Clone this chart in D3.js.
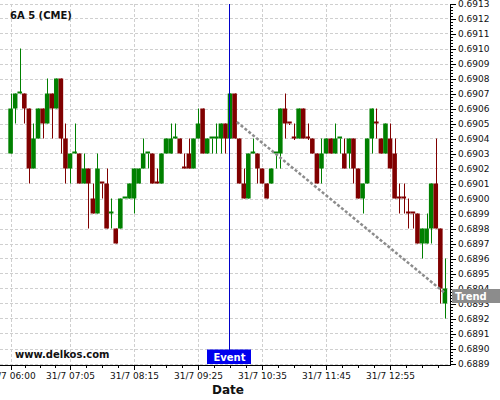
<!DOCTYPE html>
<html>
<head>
<meta charset="utf-8">
<script src="https://cdn.jsdelivr.net/npm/d3@7"></script>
<style>
  body { margin: 0; background: #fff; }
  svg { display: block; font-family: 'DejaVu Sans', sans-serif; }
  .grid line { stroke: #cfcfcf; stroke-dasharray: 3,2; shape-rendering: crispEdges; }
  .axis path, .axis line { stroke: #000; shape-rendering: crispEdges; }
  .axis text { fill: #111; }
</style>
</head>
<body>
<svg></svg>
<script>
var width = 500;
var height = 400;

// 5 minute candles, 31/7 06:00 .. 13:55
var open = [
  0.6903, 0.6906, 0.6907, 0.6907, 0.6906, 0.6902, 0.6904, 0.6906, 0.6905, 0.6907,
  0.6906, 0.6908, 0.6904, 0.6902, 0.6903, 0.6903, 0.6901, 0.6902, 0.6900, 0.6899,
  0.6901, 0.6901, 0.6899, 0.6898, 0.6898, 0.6900, 0.6900, 0.6900, 0.6901, 0.6902,
  0.6903, 0.6903, 0.6901, 0.6901, 0.6903, 0.6903, 0.6904, 0.6904, 0.6902, 0.6903,
  0.6902, 0.6904, 0.6906, 0.6903, 0.6904, 0.6904, 0.6904, 0.6905, 0.6904, 0.6907,
  0.6904, 0.6901, 0.6900, 0.6903, 0.6903, 0.6902, 0.6901, 0.6901, 0.6903, 0.6903,
  0.6906, 0.6905, 0.6904, 0.6904, 0.6906, 0.6904, 0.6904, 0.6903, 0.6902, 0.6903,
  0.6904, 0.6903, 0.6904, 0.6903, 0.6903, 0.6904, 0.6902, 0.6900, 0.6901, 0.6904,
  0.6905, 0.6904, 0.6903, 0.6904, 0.6903, 0.6900, 0.6900, 0.6899, 0.6899, 0.6899,
  0.6897, 0.6897, 0.6898, 0.6901, 0.6898, 0.6893
];
var high = [
  0.6907, 0.6907, 0.6910, 0.6907, 0.6906, 0.6905, 0.6906, 0.6906, 0.6908, 0.6907,
  0.6908, 0.6908, 0.6905, 0.6903, 0.6905, 0.6903, 0.6903, 0.6902, 0.6901, 0.6903,
  0.6901, 0.6902, 0.6900, 0.6898, 0.6900, 0.6900, 0.6901, 0.6902, 0.6902, 0.6904,
  0.6903, 0.6903, 0.6902, 0.6903, 0.6904, 0.6905, 0.6905, 0.6904, 0.6903, 0.6904,
  0.6904, 0.6906, 0.6906, 0.6904, 0.6904, 0.6905, 0.6905, 0.6905, 0.6907, 0.6907,
  0.6904, 0.6902, 0.6903, 0.6904, 0.6903, 0.6902, 0.6901, 0.6902, 0.6903, 0.6906,
  0.6907, 0.6905, 0.6905, 0.6906, 0.6906, 0.6905, 0.6904, 0.6903, 0.6904, 0.6904,
  0.6904, 0.6905, 0.6904, 0.6904, 0.6904, 0.6904, 0.6902, 0.6901, 0.6904, 0.6906,
  0.6906, 0.6904, 0.6905, 0.6905, 0.6904, 0.6901, 0.6901, 0.6900, 0.6899, 0.6899,
  0.6898, 0.6899, 0.6901, 0.6904, 0.6898, 0.6896
];
var low = [
  0.6903, 0.6905, 0.6907, 0.6905, 0.6901, 0.6902, 0.6904, 0.6904, 0.6905, 0.6904,
  0.6906, 0.6903, 0.6901, 0.6901, 0.6903, 0.6901, 0.6901, 0.6898, 0.6899, 0.6899,
  0.6900, 0.6898, 0.6898, 0.6897, 0.6898, 0.6900, 0.6900, 0.6899, 0.6901, 0.6902,
  0.6902, 0.6901, 0.6901, 0.6901, 0.6903, 0.6903, 0.6904, 0.6903, 0.6902, 0.6902,
  0.6902, 0.6904, 0.6903, 0.6903, 0.6903, 0.6903, 0.6903, 0.6903, 0.6904, 0.6904,
  0.6901, 0.6900, 0.6900, 0.6903, 0.6901, 0.6901, 0.6900, 0.6901, 0.6902, 0.6902,
  0.6904, 0.69049, 0.69039, 0.6904, 0.6904, 0.69039, 0.6903, 0.6901, 0.6901, 0.6903,
  0.6903, 0.6903, 0.6903, 0.6902, 0.6902, 0.6901, 0.6900, 0.6899, 0.6901, 0.6903,
  0.6904, 0.6903, 0.6903, 0.6902, 0.6900, 0.6899, 0.6899, 0.6898, 0.6898, 0.6897,
  0.6896, 0.6897, 0.6897, 0.6898, 0.6893, 0.6892
];
var close = [
  0.6906, 0.6907, 0.6907, 0.6906, 0.6902, 0.6904, 0.6906, 0.6905, 0.6907, 0.6906,
  0.6908, 0.6904, 0.6902, 0.6903, 0.6903, 0.6901, 0.6902, 0.6901, 0.6899, 0.6902,
  0.69009, 0.6898, 0.6899, 0.6897, 0.6900, 0.6900, 0.6901, 0.6902, 0.6902, 0.6903,
  0.6903, 0.6901, 0.69009, 0.6903, 0.6904, 0.6904, 0.6904, 0.6903, 0.69019, 0.6902,
  0.6904, 0.6905, 0.6903, 0.6904, 0.6904, 0.6904, 0.6905, 0.6904, 0.6907, 0.6904,
  0.6901, 0.6900, 0.6903, 0.6903, 0.6902, 0.6901, 0.6900, 0.6902, 0.6903, 0.6906,
  0.6905, 0.69049, 0.69039, 0.6906, 0.6904, 0.69039, 0.6903, 0.6901, 0.6903, 0.6904,
  0.6903, 0.6904, 0.6904, 0.6902, 0.6904, 0.6902, 0.6900, 0.6901, 0.6904, 0.6906,
  0.69049, 0.6903, 0.6905, 0.6902, 0.6900, 0.68999, 0.68999, 0.68989, 0.68989, 0.6897,
  0.6898, 0.6898, 0.6901, 0.6898, 0.6894, 0.6894
];

var tickIndex = [0, 13, 27, 41, 55, 69, 83];
var tickLabels = ['31/7 06:00', '31/7 07:05', '31/7 08:15', '31/7 09:25', '31/7 10:35', '31/7 11:45', '31/7 12:55'];
var priceTicks = [
  0.6889, 0.6890, 0.6891, 0.6892, 0.6893, 0.6894, 0.6895, 0.6896, 0.6897, 0.6898,
  0.6899, 0.6900, 0.6901, 0.6902, 0.6903, 0.6904, 0.6905, 0.6906, 0.6907, 0.6908,
  0.6909, 0.6910, 0.6911, 0.6912, 0.6913
];

var eventIndex = 48;
var trendStart = [49.5, 0.69051];
var trendEnd = [95, 0.68937];
var trendLabelPrice = 0.68935;

var plotRight = 450.5;
var plotBottom = 364.5;

var svg = d3.select('svg')
            .attr('width', width)
            .attr('height', height);

var n = open.length;
var xScale = d3.scaleLinear()
               .domain([0, n - 1])
               .range([10.6, 444.9]);
var yScale = d3.scaleLinear()
               .domain([0.6889, 0.6913])
               .range([363.5, 3.5]);
var step = xScale(1) - xScale(0);

// grid
var grid = svg.append('g').classed('grid', true);
grid.selectAll('.hgrid')
    .data(priceTicks)
    .enter()
    .append('line')
      .attr('x1', 0)
      .attr('x2', plotRight)
      .attr('y1', d => Math.round(yScale(d)) + 0.5)
      .attr('y2', d => Math.round(yScale(d)) + 0.5);
grid.selectAll('.vgrid')
    .data(tickIndex)
    .enter()
    .append('line')
      .attr('x1', d => Math.round(xScale(d)) + 0.5)
      .attr('x2', d => Math.round(xScale(d)) + 0.5)
      .attr('y1', 3.5)
      .attr('y2', plotBottom);

// candles
var candles = d3.range(n).map(i => ({ i: i, o: open[i], h: high[i], l: low[i], c: close[i] }));
var color = d => d.c >= d.o ? '#008000' : '#800000';

svg.append('g')
   .selectAll('line')
   .data(candles)
   .enter()
   .append('line')
     .attr('x1', d => Math.round(xScale(d.i)) + 0.5)
     .attr('x2', d => Math.round(xScale(d.i)) + 0.5)
     .attr('y1', d => yScale(d.h))
     .attr('y2', d => yScale(d.l))
     .attr('stroke', color)
     .attr('stroke-width', 1);

svg.append('g')
   .selectAll('rect')
   .data(candles)
   .enter()
   .append('rect')
     .attr('x', d => xScale(d.i) - step / 2)
     .attr('width', step)
     .attr('y', d => {
        var top = yScale(Math.max(d.o, d.c));
        var h = Math.abs(yScale(d.o) - yScale(d.c));
        return h < 2 ? yScale(d.o) - 2 : top;
     })
     .attr('height', d => Math.max(2, Math.abs(yScale(d.o) - yScale(d.c))))
     .attr('fill', color);

// axes
var minorX = [];
tickIndex.forEach((t, k) => {
  var next = k < tickIndex.length - 1 ? tickIndex[k + 1] : t + 14;
  for(var q = 1; q < 4; q++) minorX.push(t + (next - t) * q / 4);
});
minorX = minorX.filter(d => xScale(d) < plotRight);

var xAxis = d3.axisBottom(xScale)
              .tickValues(tickIndex)
              .tickFormat((d, k) => tickLabels[k])
              .tickSize(5)
              .tickSizeOuter(0)
              .tickPadding(3);
var xMinor = d3.axisBottom(xScale)
               .tickValues(minorX)
               .tickFormat('')
               .tickSize(3)
               .tickSizeOuter(0);

svg.append('g')
   .classed('axis', true)
   .attr('transform', `translate(0, ${plotBottom})`)
   .call(xMinor)
   .select('.domain').remove();
var gx = svg.append('g')
   .classed('axis', true)
   .attr('transform', `translate(0, ${plotBottom})`)
   .call(xAxis)
   .attr('font-size', 9)
   .attr('font-family', 'DejaVu Sans');
gx.select('.domain').attr('d', `M0,0.5H${plotRight}`);

var minorY = [];
for(var k = 0; k < priceTicks.length - 1; k++)
  for(var q = 1; q < 5; q++) minorY.push(priceTicks[k] + (priceTicks[k + 1] - priceTicks[k]) * q / 5);

var yAxis = d3.axisRight(yScale)
              .tickValues(priceTicks)
              .tickFormat(d3.format('.4f'))
              .tickSize(6)
              .tickSizeOuter(0)
              .tickPadding(2);
var yMinor = d3.axisRight(yScale)
               .tickValues(minorY)
               .tickFormat('')
               .tickSize(3)
               .tickSizeOuter(0);

svg.append('g')
   .classed('axis', true)
   .attr('transform', `translate(${plotRight - 0.5}, 0)`)
   .call(yMinor)
   .select('.domain').remove();
svg.append('g')
   .classed('axis', true)
   .attr('transform', `translate(${plotRight - 0.5}, 0)`)
   .call(yAxis)
   .attr('font-size', 9)
   .attr('font-family', 'DejaVu Sans')
   .select('.domain').attr('d', `M0.5,3.5V${plotBottom + 0.5}`);

// trend line
svg.append('line')
   .attr('x1', xScale(trendStart[0]))
   .attr('y1', yScale(trendStart[1]))
   .attr('x2', xScale(trendEnd[0]))
   .attr('y2', yScale(trendEnd[1]))
   .attr('stroke', '#8c8c8c')
   .attr('stroke-width', 2.5)
   .attr('stroke-dasharray', '3,2');

var trendY = yScale(trendLabelPrice);
svg.append('rect')
   .attr('x', plotRight + 1.5)
   .attr('y', trendY - 7)
   .attr('width', width - plotRight)
   .attr('height', 14)
   .attr('fill', '#8c8c8c');
svg.append('text')
   .attr('x', plotRight + 4.5)
   .attr('y', trendY + 4)
   .attr('fill', '#fff')
   .attr('font-weight', 'bold')
   .attr('font-size', 10)
   .text('Trend');

// event marker
var ex = Math.round(xScale(eventIndex)) - 0.5;
svg.append('line')
   .attr('x1', ex)
   .attr('x2', ex)
   .attr('y1', 4)
   .attr('y2', 350)
   .attr('stroke', '#0000c8')
   .attr('stroke-width', 1);
svg.append('rect')
   .attr('x', ex - 22.5)
   .attr('y', 349.5)
   .attr('width', 44)
   .attr('height', 14.5)
   .attr('fill', '#0000ee');
svg.append('text')
   .attr('x', ex)
   .attr('y', 360.5)
   .attr('text-anchor', 'middle')
   .attr('fill', '#fff')
   .attr('font-weight', 'bold')
   .attr('font-size', 10)
   .text('Event');

// texts
svg.append('text')
   .attr('x', 10)
   .attr('y', 19)
   .attr('font-weight', 'bold')
   .attr('font-size', 10)
   .attr('fill', '#111')
   .text('6A 5 (CME)');
svg.append('text')
   .attr('x', 15)
   .attr('y', 357.5)
   .attr('font-weight', 'bold')
   .attr('font-size', 10)
   .attr('fill', '#111')
   .text('www.delkos.com');
svg.append('text')
   .attr('x', 228)
   .attr('y', 394)
   .attr('text-anchor', 'middle')
   .attr('font-weight', 'bold')
   .attr('font-size', 12)
   .attr('fill', '#111')
   .text('Date');
</script>
</body>
</html>
